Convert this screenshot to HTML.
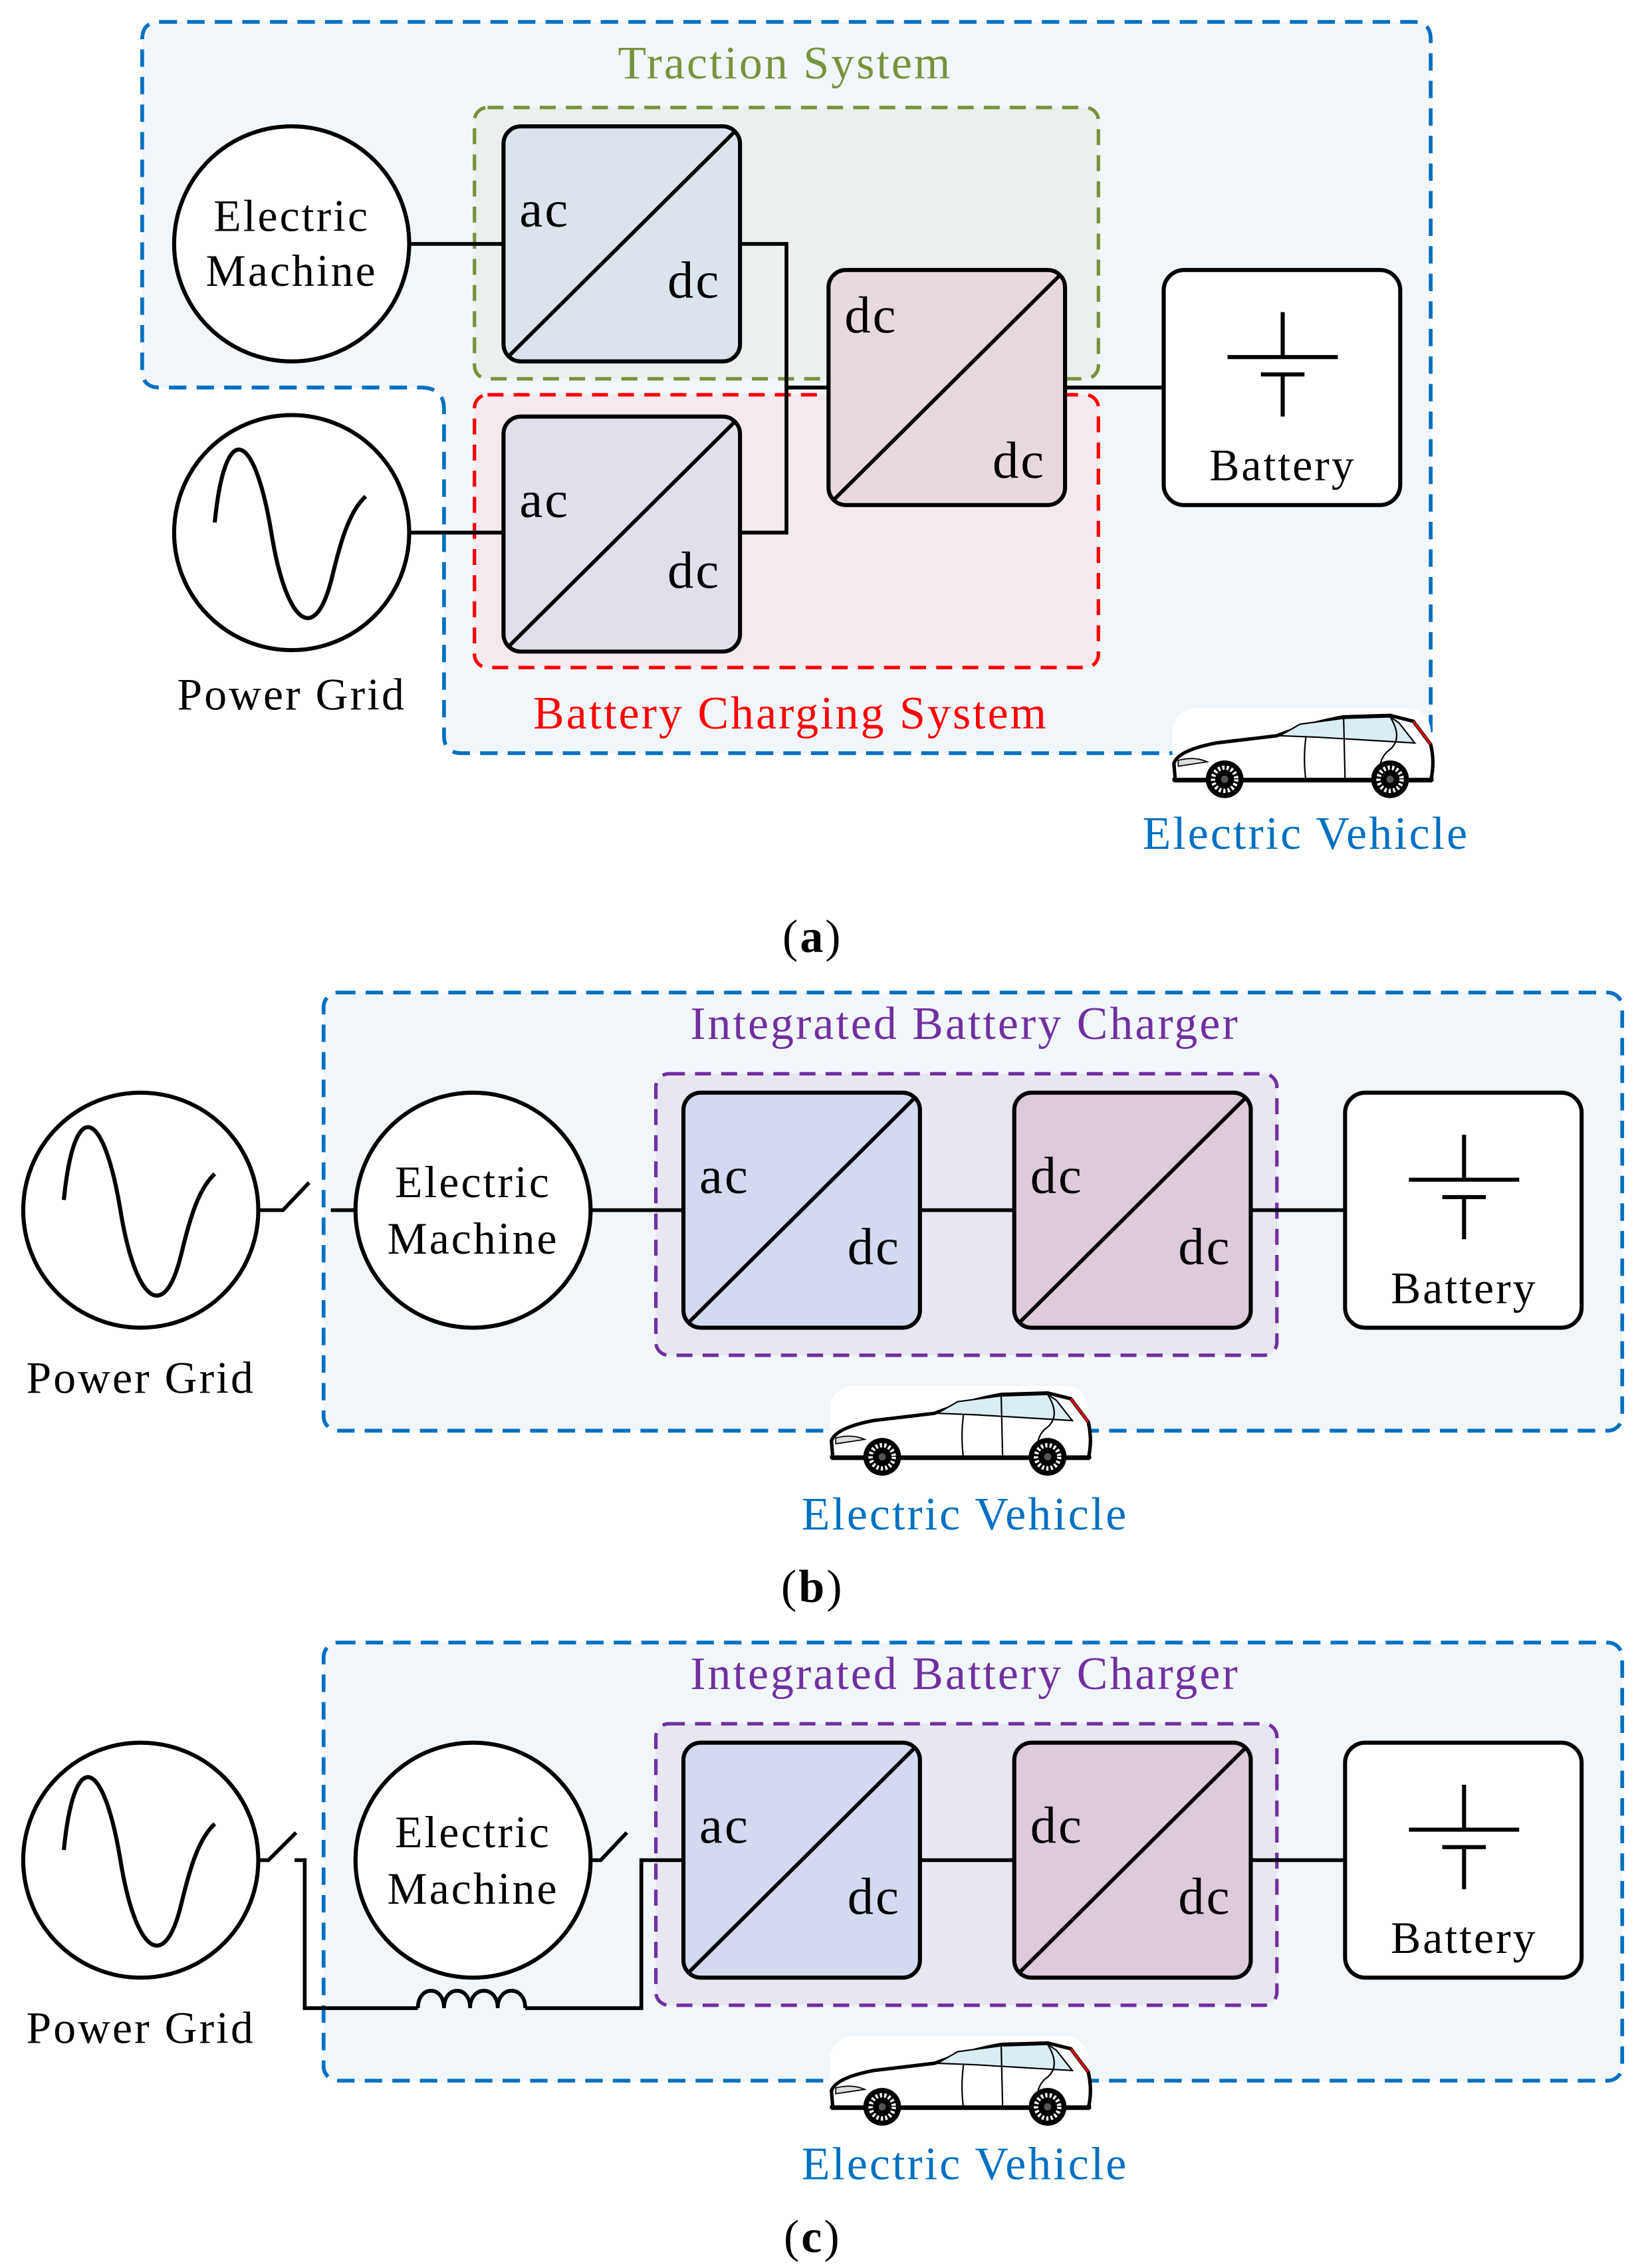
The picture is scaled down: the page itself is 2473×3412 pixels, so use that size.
<!DOCTYPE html>
<html><head><meta charset="utf-8"><style>
html,body{margin:0;padding:0;background:#fff;}
svg{display:block;}
text{font-family:"Liberation Serif",serif;letter-spacing:1.4px;}
</style></head><body>
<svg width="2473" height="3412" viewBox="0 0 1133 1563" xmlns="http://www.w3.org/2000/svg">
<defs>
<g id="car">
<rect x="0" y="0" width="178" height="60" rx="16" fill="#fff"/>
<path d="M2,50 L1,38 Q4,29 30,24 L72,19 Q95,10 118,6 L150,5 L166,9 L178,25 Q181,38 178,50 Z" fill="#fff" stroke="#000" stroke-width="2.4"/>
<path d="M74,19 L88,11 L118,7 L150,6 L156,10 L167,24 L100,20 Z" fill="#daedf3" stroke="#000" stroke-width="1"/>
<path d="M118,7 L119,50 M150,6 Q160,22 148,30 Q140,38 145,50 M92,20 Q90,35 92,50" fill="none" stroke="#000" stroke-width="1"/>
<path d="M166,9 L178,25" stroke="#e00" stroke-width="1.5"/>
<path d="M4,36 Q15,33 24,37 L4,40 Z" fill="#ddd" stroke="#000" stroke-width="0.8"/>
<rect x="0" y="48" width="180" height="2.5" fill="#000"/>
<circle cx="36" cy="49" r="13" fill="#000"/><circle cx="36" cy="49" r="8" fill="none" stroke="#fff" stroke-width="3" stroke-dasharray="1.5 1.5"/><circle cx="36" cy="49" r="2.5" fill="#555"/>
<circle cx="150" cy="49" r="13" fill="#000"/><circle cx="150" cy="49" r="8" fill="none" stroke="#fff" stroke-width="3" stroke-dasharray="1.5 1.5"/><circle cx="150" cy="49" r="2.5" fill="#555"/>
</g>
<g id="conv">
<path d="M3,159 L160,3" stroke="#000" stroke-width="2.6"/>
<rect x="0" y="0" width="163" height="162" rx="12" fill="none" stroke="#000" stroke-width="2.8"/>
</g>
<g id="batt">
<rect x="0" y="0" width="163" height="162" rx="14" fill="#fff" stroke="#000" stroke-width="2.8"/>
<path d="M82,29 V60 M44,60 H120 M67,72 H97 M82,72 V101" stroke="#000" stroke-width="2.8" fill="none"/>
<text x="82" y="145" font-size="31" text-anchor="middle">Battery</text>
</g>
<g id="grid">
<circle cx="0" cy="0" r="81" fill="#fff" stroke="#000" stroke-width="2.8"/>
<path d="M-53,-7 C-46,-78 -26,-72 -14,0 C-4,62 16,80 28,30 C34,5 40,-15 51,-25" fill="none" stroke="#000" stroke-width="2.8"/>
</g>
</defs>

<!-- (a) -->
<path d="M110,15 H974 Q986,15 986,27 V507 Q986,519 974,519 H318 Q306,519 306,507 V282 Q306,267 290,267 H110 Q98,267 98,255 V27 Q98,15 110,15 Z" fill="#f1f6fb" stroke="#0070c0" stroke-width="2.6" stroke-dasharray="12 7"/>
<text x="541" y="54" font-size="32" fill="#77933c" text-anchor="middle">Traction System</text>
<rect x="327" y="74" width="430" height="187" rx="9" fill="#ebf0ee" stroke="#77933c" stroke-width="2.4" stroke-dasharray="11 7"/>
<rect x="327" y="272" width="430" height="188" rx="9" fill="#f4e9ef" stroke="#ff0000" stroke-width="2.4" stroke-dasharray="11 7"/>
<path d="M282,168 H347 M510,168 H542 V367 H510 M542,267 H571 M734,267 H802 M282,367 H347" stroke="#000" stroke-width="2.6" fill="none"/>
<circle cx="201" cy="168" r="81" fill="#fff" stroke="#000" stroke-width="2.8"/>
<text x="201" y="159" font-size="31" text-anchor="middle">Electric</text>
<text x="201" y="197" font-size="31" text-anchor="middle">Machine</text>
<use href="#grid" x="201" y="367"/>
<text x="201" y="489" font-size="31" text-anchor="middle">Power Grid</text>
<rect x="347" y="87" width="163" height="162" rx="12" fill="#dbe3ec"/><use href="#conv" x="347" y="87"/>
<text x="358" y="156" font-size="36">ac</text><text x="460" y="205" font-size="36">dc</text>
<rect x="347" y="287" width="163" height="162" rx="12" fill="#e0dfea"/><use href="#conv" x="347" y="287"/>
<text x="358" y="356" font-size="36">ac</text><text x="460" y="405" font-size="36">dc</text>
<rect x="571" y="186" width="163" height="162" rx="12" fill="#e8d9dd"/><use href="#conv" x="571" y="186"/>
<text x="582" y="229" font-size="36">dc</text><text x="684" y="329" font-size="36">dc</text>
<use href="#batt" x="802" y="186"/>
<text x="545" y="502" font-size="32" fill="#ff0000" text-anchor="middle">Battery Charging System</text>
<use href="#car" x="808" y="488"/>
<text x="900" y="585" font-size="32" fill="#0070c0" text-anchor="middle">Electric Vehicle</text>
<text x="560" y="656" font-size="32" text-anchor="middle"><tspan>(</tspan><tspan font-weight="bold">a</tspan><tspan>)</tspan></text>

<!-- (b) -->
<rect x="223" y="684" width="895" height="302" rx="10" fill="#f1f6fb" stroke="#0070c0" stroke-width="2.6" stroke-dasharray="12 7"/>
<text x="665" y="716" font-size="32" fill="#7030a0" text-anchor="middle">Integrated Battery Charger</text>
<rect x="452" y="740" width="428" height="194" rx="9" fill="#e8e6f1" stroke="#7030a0" stroke-width="2.4" stroke-dasharray="11 7"/>
<path d="M178,834 H195 L213,815 M228,834 H245 M407,834 H471 M634,834 H699 M862,834 H927" stroke="#000" stroke-width="2.6" fill="none"/>
<use href="#grid" x="97" y="834"/>
<text x="97" y="960" font-size="31" text-anchor="middle">Power Grid</text>
<circle cx="326" cy="834" r="81" fill="#fff" stroke="#000" stroke-width="2.8"/>
<text x="326" y="825" font-size="31" text-anchor="middle">Electric</text>
<text x="326" y="864" font-size="31" text-anchor="middle">Machine</text>
<rect x="471" y="753" width="163" height="162" rx="12" fill="#d3d9ee"/><use href="#conv" x="471" y="753"/>
<text x="482" y="822" font-size="36">ac</text><text x="584" y="871" font-size="36">dc</text>
<rect x="699" y="753" width="163" height="162" rx="12" fill="#ddcadb"/><use href="#conv" x="699" y="753"/>
<text x="710" y="822" font-size="36">dc</text><text x="812" y="871" font-size="36">dc</text>
<use href="#batt" x="927" y="753"/>
<use href="#car" x="572" y="955"/>
<text x="665" y="1054" font-size="32" fill="#0070c0" text-anchor="middle">Electric Vehicle</text>
<text x="560" y="1104" font-size="32" text-anchor="middle"><tspan>(</tspan><tspan font-weight="bold">b</tspan><tspan>)</tspan></text>

<!-- (c) -->
<rect x="223" y="1132" width="895" height="302" rx="10" fill="#f1f6fb" stroke="#0070c0" stroke-width="2.6" stroke-dasharray="12 7"/>
<text x="665" y="1164" font-size="32" fill="#7030a0" text-anchor="middle">Integrated Battery Charger</text>
<rect x="452" y="1188" width="428" height="194" rx="9" fill="#e8e6f1" stroke="#7030a0" stroke-width="2.4" stroke-dasharray="11 7"/>
<path d="M178,1282 H185 L204,1263 M203,1282 H210 V1384 H288 M362,1384 H442 V1282 H471 M407,1282 H414 L432,1263 M634,1282 H699 M862,1282 H927" stroke="#000" stroke-width="2.6" fill="none"/>
<path d="M288,1384 C288,1368 306,1368 306,1384 C306,1368 324,1368 324,1384 C324,1368 343,1368 343,1384 C343,1368 362,1368 362,1384" stroke="#000" stroke-width="2.6" fill="none"/>
<use href="#grid" x="97" y="1282"/>
<text x="97" y="1408" font-size="31" text-anchor="middle">Power Grid</text>
<circle cx="326" cy="1282" r="81" fill="#fff" stroke="#000" stroke-width="2.8"/>
<text x="326" y="1273" font-size="31" text-anchor="middle">Electric</text>
<text x="326" y="1312" font-size="31" text-anchor="middle">Machine</text>
<rect x="471" y="1201" width="163" height="162" rx="12" fill="#d3d9ee"/><use href="#conv" x="471" y="1201"/>
<text x="482" y="1270" font-size="36">ac</text><text x="584" y="1319" font-size="36">dc</text>
<rect x="699" y="1201" width="163" height="162" rx="12" fill="#ddcadb"/><use href="#conv" x="699" y="1201"/>
<text x="710" y="1270" font-size="36">dc</text><text x="812" y="1319" font-size="36">dc</text>
<use href="#batt" x="927" y="1201"/>
<use href="#car" x="572" y="1403"/>
<text x="665" y="1502" font-size="32" fill="#0070c0" text-anchor="middle">Electric Vehicle</text>
<text x="560" y="1552" font-size="32" text-anchor="middle"><tspan>(</tspan><tspan font-weight="bold">c</tspan><tspan>)</tspan></text>
</svg>
</body></html>
